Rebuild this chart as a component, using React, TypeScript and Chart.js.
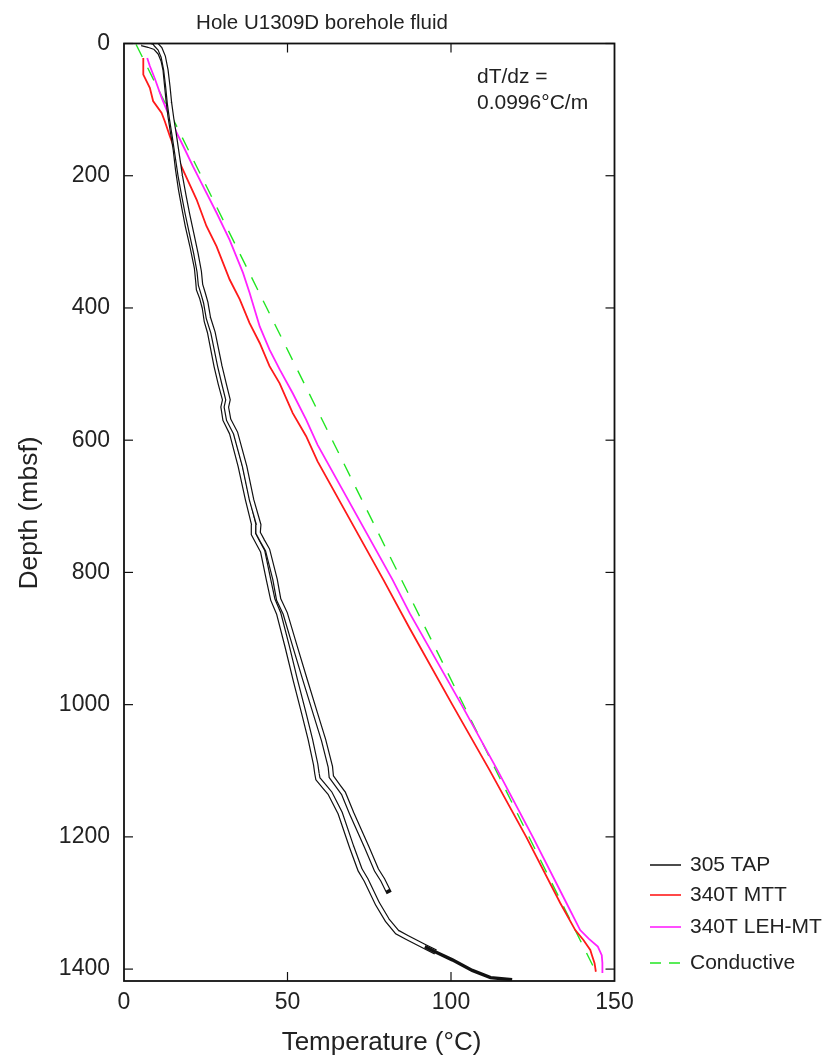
import React, { useEffect, useRef } from 'react';
import { Chart, registerables } from 'chart.js';

Chart.register(...registerables);

// ---------- data ----------
const xTicks = [0, 50, 100, 150];
const yTicks = [0, 200, 400, 600, 800, 1000, 1200, 1400];
const xMin = 0;
const xMax = 150;
const yMin = 0;
const yMax = 1418;

const legendLabels = ['305 TAP', '340T MTT', '340T LEH-MT', 'Conductive'];
const annotationLines = ['dT/dz =', '0.0996°C/m'];
const chartTitle = 'Hole U1309D borehole fluid';
const xTitle = 'Temperature (°C)';
const yTitle = 'Depth (mbsf)';

// 305 TAP, trace continuing to the bottom of the hole
const tapATemp = [5.4, 7.5, 9.5, 11.0, 12.0, 12.6, 13.0, 13.5, 14.1, 14.9, 15.7, 16.4, 17.3, 18.4, 19.4, 20.8, 22.2, 22.6, 22.8, 23.8, 24.6, 25.2, 26.2, 28.2, 29.5, 30.8, 30.3, 30.9, 32.9, 35.6, 37.8, 39.7, 39.6, 41.0, 42.4, 44.2, 45.5, 47.3, 49.9, 52.4, 55.0, 57.0, 58.6, 59.0, 59.3, 61.3, 63.0, 66.1, 69.6, 72.2, 74.0, 77.5, 80.5, 83.5, 86.5, 92.0, 95.3];
const tapADepth = [0, 2.5, 6, 14, 26, 40, 60, 85, 110, 135, 160, 190, 220, 250, 276, 306, 340, 360, 372, 385, 400, 420, 437, 488, 515, 539, 550, 569, 589, 640, 690, 728, 742, 755, 768, 811, 841, 862, 912, 963, 1013, 1053, 1090, 1104, 1112, 1124, 1134, 1164, 1215, 1250, 1265, 1301, 1326, 1344, 1352, 1366, 1374];
// 305 TAP, merged tail near the bottom of the hole
const tapTailTemp = [92.0, 95.3, 100.4, 106.5, 112.1, 118.7];
const tapTailDepth = [1366, 1374, 1386, 1402, 1413, 1416];
// 305 TAP, second trace ending near 1285 m
const tapBTemp = [9.5, 11.0, 12.0, 12.8, 13.4, 13.9, 14.6, 15.4, 16.3, 17.2, 18.3, 19.4, 20.7, 22.0, 23.0, 23.4, 24.2, 25.0, 25.8, 27.2, 29.3, 30.6, 31.8, 31.3, 32.0, 34.1, 36.9, 39.0, 41.2, 41.0, 42.3, 43.9, 46.2, 47.3, 49.3, 52.3, 55.4, 58.5, 61.0, 63.1, 63.4, 65.6, 67.1, 69.6, 74.2, 77.2, 79.1, 80.6, 81.1];
const tapBDepth = [0, 8, 20, 40, 65, 90, 115, 140, 170, 200, 230, 258, 288, 318, 345, 365, 378, 392, 415, 437, 488, 515, 539, 550, 569, 589, 640, 690, 728, 740, 752, 766, 811, 841, 862, 912, 963, 1013, 1053, 1094, 1109, 1124, 1134, 1164, 1215, 1250, 1265, 1280, 1285];

// 340T MTT
const mttTemp = [5.9, 5.9, 6.4, 7.9, 8.9, 11.5, 12.5, 14.0, 15.5, 17.1, 22.2, 25.2, 28.3, 32.3, 35.4, 38.4, 41.5, 44.5, 47.6, 51.6, 55.7, 59.2, 79.3, 87.3, 100.4, 111.8, 123.0, 133.4, 138.0, 140.5, 142.6, 143.1, 143.9, 144.3];
const mttDepth = [22, 47, 52, 67, 87, 105, 118, 140, 160, 181, 236, 276, 307, 357, 387, 423, 453, 488, 514, 559, 594, 632, 811, 884, 1000, 1099, 1200, 1300, 1341, 1356, 1371, 1379, 1391, 1404];

// 340T LEH-MT
const lehTemp = [7.1, 7.9, 9.5, 11.5, 13.0, 14.5, 16.1, 18.1, 21.1, 24.2, 28.3, 32.3, 36.4, 38.4, 41.5, 44.5, 47.6, 51.6, 55.7, 59.2, 82.1, 87.4, 103.2, 114.2, 125.0, 135.3, 139.5, 142.1, 144.9, 146.1, 146.3, 146.3];
const lehDepth = [22, 34, 54, 82, 100, 115, 135, 155, 186, 216, 256, 297, 347, 377, 428, 463, 493, 529, 569, 607, 811, 862, 1000, 1099, 1200, 1300, 1341, 1354, 1366, 1379, 1391, 1406];

// Conductive
const condTemp = [3.7, 144.3];
const condDepth = [1.5, 1404];

// ---------- helpers ----------
const FONT = "'Liberation Sans', Arial, Helvetica, sans-serif";
const TEXT = '#222222';
const BLACK = '#111111';
const RED = '#ff1a1a';
const MAGENTA = '#ff22ff';
const GREEN = '#22e622';

const pts = (t: number[], d: number[]) => t.map((v, i) => ({ x: v, y: d[i] }));

const framePlugin = {
  id: 'frameAndExtras',
  afterDraw(chart: any) {
    const { ctx, chartArea, scales } = chart;
    const { left, right, top, bottom } = chartArea;
    const xs = scales.x;
    const ys = scales.y;
    ctx.save();
    ctx.strokeStyle = BLACK;
    ctx.lineWidth = 1.8;
    ctx.strokeRect(left, top, right - left, bottom - top);
    ctx.lineWidth = 1.2;
    const tl = 9;
    const seg = (a: number, b: number, c: number, d: number) => {
      ctx.beginPath();
      ctx.moveTo(a, b);
      ctx.lineTo(c, d);
      ctx.stroke();
    };
    xTicks.forEach((v) => {
      if (v === xMin || v === xMax) return;
      const px = xs.getPixelForValue(v);
      seg(px, bottom, px, bottom - tl);
      seg(px, top, px, top + tl);
    });
    yTicks.forEach((v) => {
      const py = ys.getPixelForValue(v);
      seg(left, py, left + tl, py);
      seg(right, py, right - tl, py);
    });

    ctx.fillStyle = TEXT;
    // chart title
    ctx.font = `20.5px ${FONT}`;
    ctx.textAlign = 'center';
    ctx.textBaseline = 'alphabetic';
    ctx.fillText(chartTitle, 322, 29);

    // axis titles
    ctx.font = `26px ${FONT}`;
    ctx.textBaseline = 'middle';
    ctx.fillText(xTitle, 381.5, 1043);
    ctx.save();
    ctx.translate(30, 513);
    ctx.rotate(-Math.PI / 2);
    ctx.font = `26.5px ${FONT}`;
    ctx.fillText(yTitle, 0, 0);
    ctx.restore();

    // annotation
    ctx.font = `21px ${FONT}`;
    ctx.textAlign = 'left';
    ctx.textBaseline = 'middle';
    ctx.fillText(annotationLines[0], 477, 77);
    ctx.fillText(annotationLines[1], 477, 103);

    // legend
    const rows = [865, 895, 927, 963];
    const colors = [BLACK, RED, MAGENTA, GREEN];
    legendLabels.forEach((lab, i) => {
      const y = rows[i];
      ctx.strokeStyle = colors[i];
      ctx.lineWidth = i === 0 ? 1.5 : 1.6;
      if (i === 3) ctx.setLineDash([11, 8]);
      else ctx.setLineDash([]);
      seg(650, y, 681, y);
      ctx.setLineDash([]);
      ctx.fillStyle = TEXT;
      ctx.fillText(lab, 690, y);
    });
    ctx.restore();
  },
};

export default function App() {
  const ref = useRef<HTMLCanvasElement | null>(null);

  useEffect(() => {
    if (!ref.current) return;
    const line = (data: any, color: string, width: number, order: number, dash: number[] = []) => ({
      data,
      borderColor: color,
      backgroundColor: color,
      borderWidth: width,
      borderDash: dash,
      showLine: true,
      pointRadius: 0,
      pointHoverRadius: 0,
      tension: 0,
      fill: false,
      order,
    });
    const aPts = pts(tapATemp, tapADepth);
    const bPts = pts(tapBTemp, tapBDepth);
    const chart = new Chart(ref.current, {
      type: 'scatter',
      data: {
        datasets: [
          { label: legendLabels[3], ...line(pts(condTemp, condDepth), GREEN, 1.4, 10, [14, 12]) },
          { label: legendLabels[1], ...line(pts(mttTemp, mttDepth), RED, 1.8, 9) },
          { label: legendLabels[2], ...line(pts(lehTemp, lehDepth), MAGENTA, 1.8, 8) },
          { label: legendLabels[0], ...line(aPts, BLACK, 5.6, 7) },
          { label: 'a-inner', ...line(aPts, '#ffffff', 3.2, 6) },
          { label: 'tail', ...line(pts(tapTailTemp, tapTailDepth), BLACK, 3.4, 5.5) },
          { label: 'b', ...line(bPts, BLACK, 5.6, 5) },
          { label: 'b-inner', ...line(bPts.slice(0, bPts.length - 1), '#ffffff', 3.2, 4) },
        ],
      },
      options: {
        responsive: false,
        animation: false,
        devicePixelRatio: 1,
        events: [],
        layout: { padding: { left: 0, right: 212.5, top: 43.5, bottom: 0 } },
        plugins: {
          legend: { display: false },
          tooltip: { enabled: false },
          title: { display: false },
        },
        scales: {
          x: {
            type: 'linear',
            position: 'bottom',
            min: xMin,
            max: xMax,
            afterBuildTicks: (s: any) => {
              s.ticks = xTicks.map((v) => ({ value: v }));
            },
            afterFit: (s: any) => {
              s.height = 78;
            },
            grid: { display: false, drawTicks: false },
            border: { display: false },
            ticks: {
              color: TEXT,
              padding: 8,
              maxRotation: 0,
              autoSkip: false,
              font: { family: FONT, size: 23 },
              callback: (v: any) => String(v),
            },
            title: { display: false },
          },
          y: {
            type: 'linear',
            position: 'left',
            reverse: true,
            min: yMin,
            max: yMax,
            afterBuildTicks: (s: any) => {
              s.ticks = yTicks.map((v) => ({ value: v }));
            },
            afterFit: (s: any) => {
              s.width = 124;
            },
            grid: { display: false, drawTicks: false },
            border: { display: false },
            ticks: {
              color: TEXT,
              padding: 14,
              autoSkip: false,
              font: { family: FONT, size: 23 },
              callback: (v: any) => String(v),
            },
            title: { display: false },
          },
        },
      },
      plugins: [framePlugin],
    } as any);
    return () => chart.destroy();
  }, []);

  return (
    <div style={{ position: 'absolute', left: 0, top: 0, width: 827, height: 1059, background: '#ffffff' }}>
      <canvas ref={ref} width={827} height={1059} style={{ width: 827, height: 1059, display: 'block' }} />
    </div>
  );
}
